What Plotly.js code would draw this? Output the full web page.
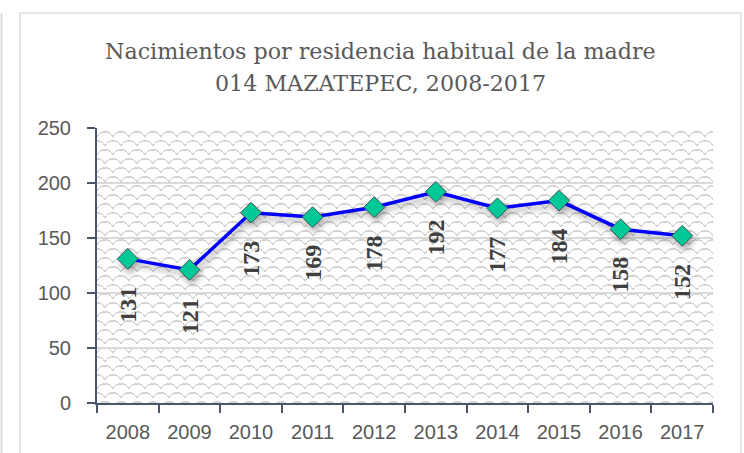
<!DOCTYPE html>
<html>
<head>
<meta charset="utf-8">
<script src="https://cdn.plot.ly/plotly-3.0.1.min.js"></script>
<style>
html,body{margin:0;padding:0;background:#fff;}
#chart{width:744px;height:453px;}
</style>
</head>
<body>
<div id="chart"></div>
<script>
// ---- data ----
const years = ["2008","2009","2010","2011","2012","2013","2014","2015","2016","2017"];
const births = [131,121,173,169,178,192,177,184,158,152];
const yTicks = [0,50,100,150,200,250];
const titleLines = ["Nacimientos por residencia habitual de la madre","014 MAZATEPEC, 2008-2017"];

// background pattern tile (scales)
const tile = '<svg xmlns="http://www.w3.org/2000/svg" width="616" height="275" shape-rendering="crispEdges">' +
  '<defs><pattern id="p" width="16" height="18" patternUnits="userSpaceOnUse">' +
  '<path d="M0,9 L2,6 L5,4 L11,4 L14,6 L16,9 M-8,18 L-6,15 L-3,13 L3,13 L6,15 L8,18 M8,18 L10,15 L13,13 L19,13 L22,15 L24,18 M-8,0 L-6,-3 L-3,-5 L3,-5 L6,-3 L8,0 M8,0 L10,-3 L13,-5 L19,-5 L22,-3 L24,0" fill="none" stroke="#d3d3d3" stroke-width="1.2"/>' +
  '</pattern></defs><rect width="616" height="275" fill="url(#p)"/></svg>';
const tileURI = 'data:image/svg+xml;base64,' + btoa(tile);

const trace = {
  type: 'scatter', mode: 'lines+markers',
  x: years, y: births,
  line: {color: '#0000ff', width: 3.5},
  marker: {symbol: 'diamond', size: 16, color: '#00c896', line: {color: '#3f5560', width: 1}},
  hoverinfo: 'none', cliponaxis: false
};

const annotations = births.map((v, i) => ({
  x: i, y: v, xref: 'x', yref: 'y',
  text: String(v), showarrow: false, textangle: -90,
  yshift: -46, xanchor: 'center', yanchor: 'middle',
  font: {family: 'Liberation Serif, serif', size: 24, color: '#404040', weight: 'bold'}
}));
titleLines.forEach((t, k) => annotations.push({
  xref: 'paper', yref: 'paper', x: 0.461, y: 1.0,
  yshift: [77, 45][k], xanchor: 'center', yanchor: 'middle',
  text: t, showarrow: false,
  font: {family: 'DejaVu Serif, serif', size: 22.2, color: '#595959'}
}));

const layout = {
  width: 744, height: 453,
  margin: {l: 97, r: 31, t: 128, b: 50, pad: 0},
  paper_bgcolor: '#ffffff', plot_bgcolor: 'rgba(0,0,0,0)',
  showlegend: false,
  xaxis: {
    type: 'category', tickson: 'boundaries', ticks: 'outside', ticklen: 8, tickwidth: 2,
    tickcolor: '#4a5568', showline: true, linecolor: '#4a5568', linewidth: 2,
    showgrid: false, ticklabelstandoff: 10,
    tickfont: {family: 'Liberation Sans, Arial, sans-serif', size: 20, color: '#595959'},
    range: [-0.5, 9.5], fixedrange: true
  },
  yaxis: {
    range: [0, 250], tickvals: yTicks, ticks: 'outside', ticklen: 8, tickwidth: 2,
    tickcolor: '#4a5568', showline: true, linecolor: '#4a5568', linewidth: 2,
    showgrid: true, gridcolor: '#d9d9d9', gridwidth: 1.5, zeroline: false,
    ticklabelstandoff: 12,
    tickfont: {family: 'Liberation Sans, Arial, sans-serif', size: 20, color: '#595959'},
    fixedrange: true
  },
  images: [{
    source: tileURI, xref: 'paper', yref: 'paper', x: 0, y: 1, sizex: 1, sizey: 1,
    xanchor: 'left', yanchor: 'top', sizing: 'stretch', layer: 'below'
  }],
  shapes: [
    {type: 'rect', xref: 'paper', yref: 'paper', x0: (20-97)/616, x1: (741-97)/616,
     y0: (403-470)/275, y1: (403-13)/275, line: {color: '#d9dde3', width: 1.5}, fillcolor: 'rgba(0,0,0,0)', layer: 'below'},
    {type: 'line', xref: 'paper', yref: 'paper', x0: (1.5-97)/616, x1: (1.5-97)/616,
     y0: (403-470)/275, y1: (403-13)/275, line: {color: '#d9dde3', width: 2}}
  ],
  annotations: annotations
};

Plotly.newPlot('chart', [trace], layout, {displayModeBar: false, staticPlot: true}).then(() => {
  document.querySelectorAll('.scatterlayer .trace').forEach(g => {
    g.style.filter = 'drop-shadow(2px 4px 3px rgba(0,0,0,0.35))';
  });
});
</script>
</body>
</html>
